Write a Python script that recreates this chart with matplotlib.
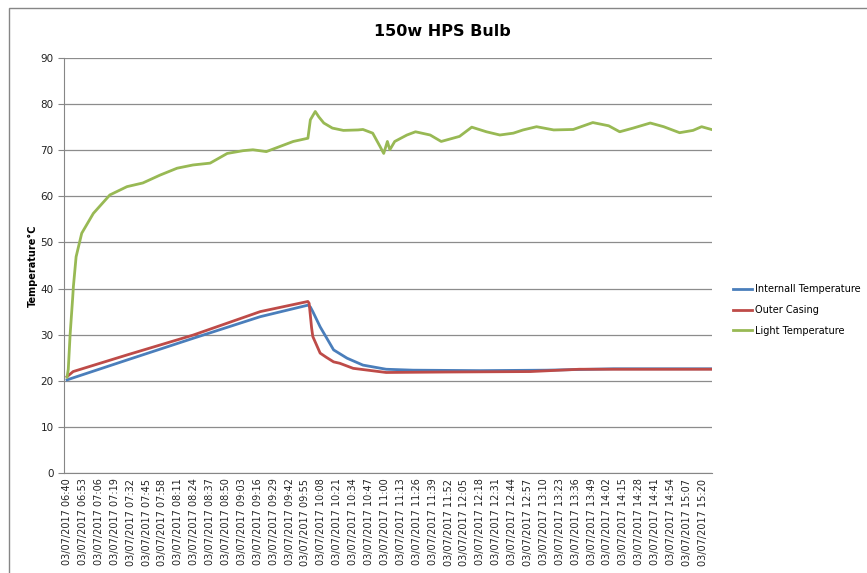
#!/usr/bin/env python3

# ----------------------------------------------
# 150w HPS bulb temperature log (Excel style line chart)
# ----------------------------------------------

import matplotlib
matplotlib.use("Agg")
import matplotlib.pyplot as plt
from matplotlib.patches import Rectangle

# Minutes since 03/07/2017 06:40 and the temperatures read at those moments
light_min = [0, 1, 2.5, 4.6, 5.2, 7.4, 12, 21.5, 35, 49, 62, 76, 90, 103, 117, 131,
             144, 152, 163, 174, 185, 197, 199, 203, 206, 210, 217, 226, 238, 242,
             250, 256, 259, 262, 264, 268, 278, 285, 297, 306, 321, 331, 343, 354,
             365, 373, 384, 398, 414, 430, 443, 452, 463, 477, 488, 501, 512, 519, 527]
light_temp = [20.8, 22.5, 30, 38, 40.5, 46.9, 52, 56.3, 60.3, 62.1, 62.9, 64.6, 66.1,
              66.8, 67.2, 69.3, 69.9, 70.1, 69.7, 70.8, 71.9, 72.6, 76.6, 78.4, 77.2,
              75.9, 74.8, 74.3, 74.4, 74.5, 73.7, 70.8, 69.3, 71.9, 70.1, 71.9, 73.3,
              74.0, 73.3, 71.9, 73.0, 75.0, 74.0, 73.3, 73.7, 74.4, 75.1, 74.4, 74.5,
              76.0, 75.3, 74.0, 74.8, 75.9, 75.1, 73.8, 74.3, 75.1, 74.5]

outer_min = [0, 5, 49, 103, 158, 197, 198, 200, 201, 207, 212, 218, 223, 234, 261,
             310, 379, 419, 447, 527]
outer_temp = [20.9, 22.0, 25.6, 29.9, 35.0, 37.2, 36.8, 31.5, 29.6, 26.0, 25.1, 24.1,
              23.8, 22.7, 21.8, 21.9, 22.0, 22.5, 22.5, 22.5]

internal_min = [0, 49, 103, 158, 197, 199, 201, 207, 218, 229, 242, 261, 283, 338,
                392, 447, 527]
internal_temp = [20.2, 24.5, 29.2, 33.9, 36.4, 36.0, 35.0, 31.7, 26.7, 24.9, 23.4,
                 22.5, 22.3, 22.2, 22.3, 22.6, 22.6]

# Axis labels every 13 minutes
tick_min = list(range(0, 521, 13))
tick_labels = ["03/07/2017 %02d:%02d" % ((400 + m) // 60, (400 + m) % 60) for m in tick_min]
y_ticks = [0, 10, 20, 30, 40, 50, 60, 70, 80, 90]

W, H = 867, 573
fig = plt.figure(figsize=(W / 100, H / 100), dpi=100)
# Plot area in pixels : left 64, right 712, top 58, bottom 473
ax = fig.add_axes([64 / W, 1 - 473 / H, (712 - 64) / W, (473 - 58) / H])

# Chart border
fig.patches.append(Rectangle((9 / W, -0.1), 1.2, 1 - 8 / H + 0.1, transform=fig.transFigure,
                             fill=False, edgecolor="#868686", linewidth=1.0))

ax.plot(internal_min, internal_temp, color="#4A7EBB", lw=2.0, label="Internall Temperature")
ax.plot(outer_min, outer_temp, color="#BE4B48", lw=2.0, label="Outer Casing")
ax.plot(light_min, light_temp, color="#98B954", lw=2.0, label="Light Temperature")

ax.set_xlim(-2.5, 527.5)
ax.set_ylim(0, 90)
ax.set_yticks(y_ticks)
ax.set_xticks(tick_min)
ax.set_xticklabels(tick_labels, rotation=90, fontsize=7, color="#222222")
ax.tick_params(axis="y", labelsize=7.5, colors="#222222", length=4, color="#868686")
ax.tick_params(axis="x", length=0, pad=4)
ax.yaxis.grid(True, color="#8c8c8c", linewidth=0.9)
ax.set_axisbelow(True)
for side in ["top", "right"]:
    ax.spines[side].set_visible(False)
for side in ["left", "bottom"]:
    ax.spines[side].set_color("#868686")

ax.set_ylabel("Temperature°C", fontsize=7, fontweight="bold", labelpad=2)

fig.text(442 / W, 1 - 31 / H, "150w HPS Bulb", ha="center", va="center",
         fontsize=11.5, fontweight="bold")

fig.legend(loc="center left", bbox_to_anchor=(733 / W, 1 - 310 / H), frameon=False,
           fontsize=7, handlelength=2.0, handletextpad=0.3, labelspacing=1.1,
           borderpad=0, borderaxespad=0)

fig.savefig("out.png", dpi=100)
